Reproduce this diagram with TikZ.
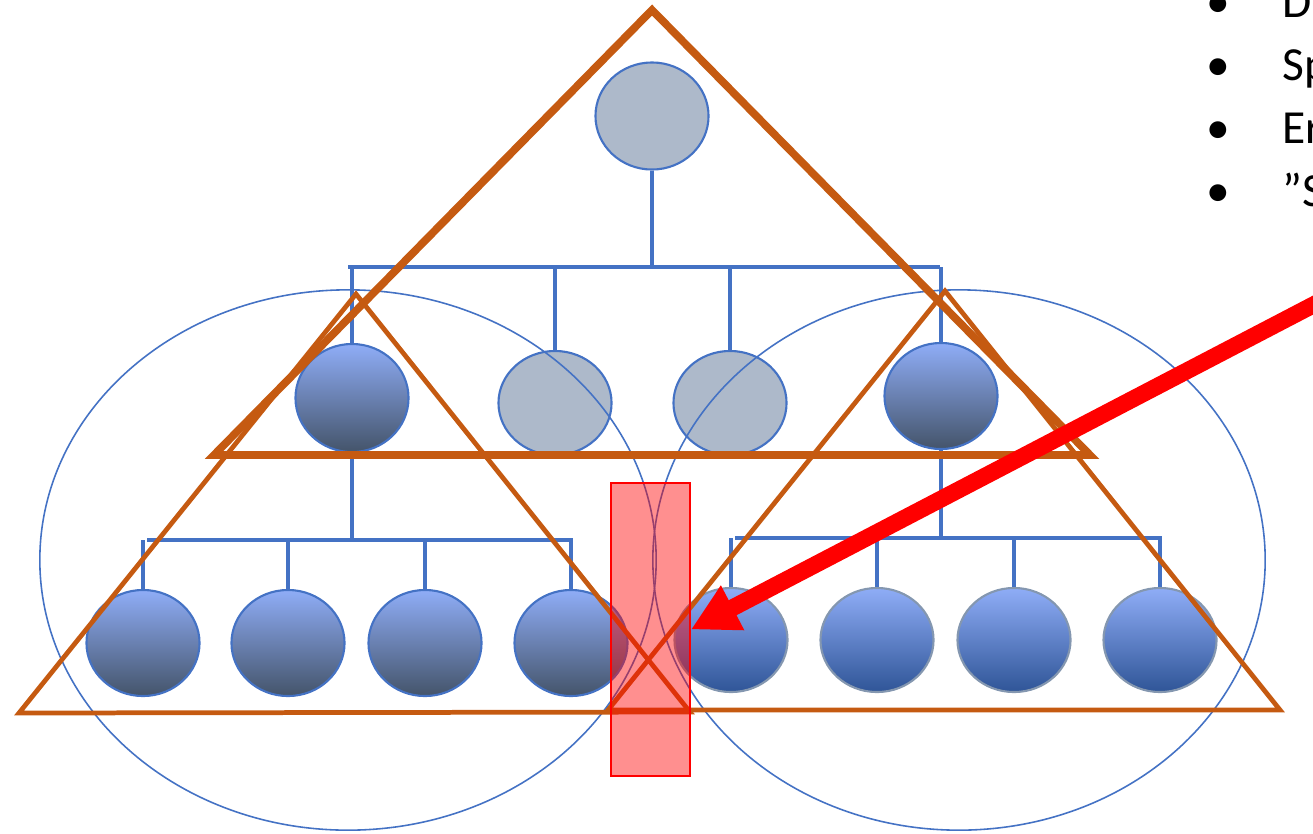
\documentclass[tikz,border=0pt]{standalone}
\usepackage{fontspec}
\setmainfont{Carlito}
\usetikzlibrary{shapes.geometric, arrows.meta}

\definecolor{rust}{HTML}{C55A11}
\definecolor{treeblue}{HTML}{4472C4}
\definecolor{nodegrey}{HTML}{ADB9CA}
\definecolor{shadetop}{HTML}{8FADF7}
\definecolor{shadeslate}{HTML}{44546A}
\definecolor{shadenavy}{HTML}{2F5597}
\definecolor{rimgrey}{HTML}{8497B0}

\begin{document}
\begin{tikzpicture}[
  x=0.01cm, y=-0.01cm,
  member/.style={ellipse, draw=treeblue, line width=0.6pt, minimum width=1.13cm, minimum height=1.06cm, inner sep=0pt},
  greymember/.style={member, fill=nodegrey},
  leader/.style={member, top color=shadetop, bottom color=shadeslate},
  worker/.style={member, draw=rimgrey, top color=shadetop, bottom color=shadenavy},
  link/.style={draw=treeblue, line width=0.9pt},
  hull/.style={ellipse, draw=treeblue, line width=0.45pt, inner sep=0pt},
  tri/.style={draw=rust, line width=1.35pt, line join=miter},
  bigtri/.style={tri, line width=2.2pt},
  overlapbox/.style={rectangle, draw=red, line width=0.5pt, fill=red, fill opacity=0.44, inner sep=0pt},
  arr/.style={-{Triangle[length=4.7mm, width=4.7mm]}, line width=4.8pt, draw=red},
  listtext/.style={font=\fontsize{13.5}{16}\selectfont, anchor=base west, inner sep=0pt},
  listdot/.style={font=\fontsize{13.5}{16}\selectfont, anchor=base, inner sep=0pt}
]
  \useasboundingbox (0,0) rectangle (1313,833);
  \clip (0,0) rectangle (1313,833);

  % Tree bars
  \coordinate (topbarL) at (348,267);
  \coordinate (topbarR) at (940,267);
  \coordinate (lbarL) at (147,540);
  \coordinate (lbarR) at (573,540);
  \coordinate (rbarL) at (735,538);
  \coordinate (rbarR) at (1162,538);

  % Members
  \node[greymember, minimum height=1.07cm] (root) at (652,116) {};
  \node[leader, minimum height=1.08cm] (lead1) at (352,398) {};
  \node[greymember, minimum height=1.04cm] (mid2) at (555,403) {};
  \node[greymember, minimum height=1.04cm] (mid3) at (730,403) {};
  \node[leader] (lead4) at (941,396) {};

  \node[leader] (l1) at (143,643) {};
  \node[leader] (l2) at (288,643) {};
  \node[leader] (l3) at (425,643) {};
  \node[leader] (l4) at (571,643) {};

  \node[worker, minimum height=1.04cm] (r1) at (731,640) {};
  \node[worker, minimum height=1.04cm] (r2) at (877,640) {};
  \node[worker, minimum height=1.04cm] (r3) at (1014,640) {};
  \node[worker, minimum height=1.04cm] (r4) at (1160,640) {};

  \draw[link] (root.south) -- (root.south |- topbarL);
  \draw[link] (topbarL) -- (topbarR);
  \draw[link] (lead1.north) -- (lead1.north |- topbarL);
  \draw[link] (mid2.north) -- (mid2.north |- topbarL);
  \draw[link] (mid3.north) -- (mid3.north |- topbarL);
  \draw[link] (lead4.north) -- (lead4.north |- topbarL);

  \draw[link] (lead1.south) -- (lead1.south |- lbarL);
  \draw[link] (lbarL) -- (lbarR);
  \draw[link] (l1.north) -- (l1.north |- lbarL);
  \draw[link] (l2.north) -- (l2.north |- lbarL);
  \draw[link] (l3.north) -- (l3.north |- lbarL);
  \draw[link] (l4.north) -- (l4.north |- lbarL);

  \draw[link] (lead4.south) -- (lead4.south |- rbarL);
  \draw[link] (rbarL) -- (rbarR);
  \draw[link] (r1.north) -- (r1.north |- rbarL);
  \draw[link] (r2.north) -- (r2.north |- rbarL);
  \draw[link] (r3.north) -- (r3.north |- rbarL);
  \draw[link] (r4.north) -- (r4.north |- rbarL);

  % Teams
  \node[hull, minimum width=6.16cm, minimum height=5.4cm] (leftteam) at (348,560) {};
  \node[hull, minimum width=6.12cm, minimum height=5.4cm] (rightteam) at (959,560) {};

  % Triangles
  \coordinate (bigtop) at (652,10);
  \coordinate (bigleft) at (214,455);
  \coordinate (bigright) at (1090,455);
  \coordinate (ltop) at (356,294);
  \coordinate (lleft) at (19,713);
  \coordinate (lright) at (690,712);
  \coordinate (rtop) at (945,291);
  \coordinate (rleft) at (608,710);
  \coordinate (rright) at (1280,710);

  \draw[tri] (ltop) -- (lleft) -- (lright) -- cycle;
  \draw[tri] (rtop) -- (rleft) -- (rright) -- cycle;
  \draw[bigtri] (bigtop) -- (bigleft) -- (bigright) -- cycle;

  % Overlap and pointer
  \node[overlapbox, minimum width=0.79cm, minimum height=2.93cm] (overlap) at (650.5,629.5) {};
  \coordinate (arrowstart) at (1340,291);
  \draw[arr] (arrowstart) -- (overlap.east);

  % Bullet list
  \node[listdot] (b1) at (1218,17) {•};
  \node[listtext] (t1) at (1282,17) {D};
  \node[listdot] (b2) at (1218,80) {•};
  \node[listtext] (t2) at (1282,80) {Sp};
  \node[listdot] (b3) at (1218,143) {•};
  \node[listtext] (t3) at (1282,143) {Er};
  \node[listdot] (b4) at (1218,206) {•};
  \node[listtext] (t4) at (1282,206) {”S};
\end{tikzpicture}
\end{document}
